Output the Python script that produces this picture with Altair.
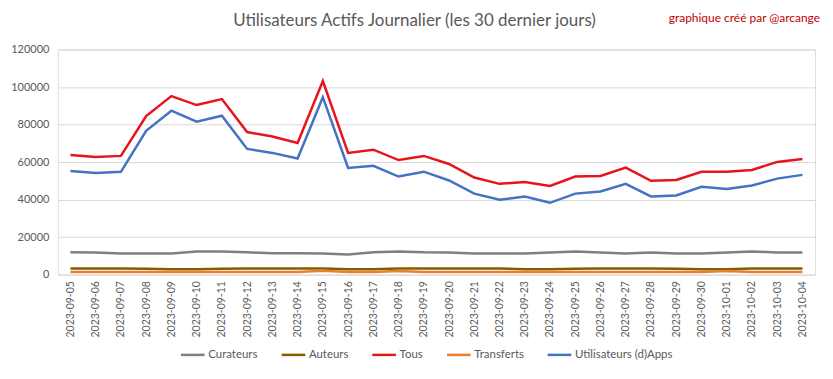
import altair as alt
import pandas as pd

dates = ["2023-09-05","2023-09-06","2023-09-07","2023-09-08","2023-09-09","2023-09-10",
         "2023-09-11","2023-09-12","2023-09-13","2023-09-14","2023-09-15","2023-09-16",
         "2023-09-17","2023-09-18","2023-09-19","2023-09-20","2023-09-21","2023-09-22",
         "2023-09-23","2023-09-24","2023-09-25","2023-09-26","2023-09-27","2023-09-28",
         "2023-09-29","2023-09-30","2023-10-01","2023-10-02","2023-10-03","2023-10-04"]

curateurs = [12000,11800,11300,11300,11300,12300,12400,11900,11400,11400,11300,10800,
             11900,12400,11900,11800,11300,11300,11300,11800,12400,11800,11300,11800,
             11300,11300,11800,12400,11800,11800]
auteurs = [3300,3300,3300,3200,2900,2900,3200,3300,3300,3300,3300,2900,2900,3300,3300,
           3300,3300,3300,2900,2900,3200,3300,3300,3300,3200,2900,2900,3300,3300,3300]
tous = [63800,62700,63300,84500,95200,90400,93600,76000,73600,70200,103200,64900,
        66600,61100,63300,59000,51800,48400,49400,47300,52300,52600,57100,50000,
        50500,54800,54800,55800,60100,61700]
transferts = [1400,1400,1400,1400,1400,1400,1400,1400,1400,1400,2100,1400,1400,1900,1400,
              1400,1400,1400,1400,1400,1400,1400,1400,1400,1400,1400,2000,1400,1400,1400]
apps = [55300,54200,54800,76700,87400,81500,84700,67000,64900,61900,94600,56900,
        58000,52300,54900,50200,43200,39900,41700,38300,43200,44300,48400,41700,
        42200,46800,45700,47500,51200,53200]

series_names = ["Curateurs", "Auteurs", "Tous", "Transferts", "Utilisateurs (d)Apps"]
series_colors = ["#7F7F7F", "#7F6000", "#E8141B", "#ED7D31", "#4472C4"]
series_values = [curateurs, auteurs, tous, transferts, apps]
y_ticks = [0, 20000, 40000, 60000, 80000, 100000, 120000]

title_text = "Utilisateurs Actifs Journalier (les 30 dernier jours)"
credit_text = "graphique créé par @arcange"

rows = []
for name, vals in zip(series_names, series_values):
    for d, v in zip(dates, vals):
        rows.append({"date": d, "serie": name, "valeur": v, "ordre": series_names.index(name)})
df = pd.DataFrame(rows)

FONT = "Lato"
GRAY = "#595959"

lines = alt.Chart(df).mark_line(strokeWidth=2.5).encode(
    x=alt.X("date:O", sort=dates, title=None,
            scale=alt.Scale(type="point", padding=0.5),
            axis=alt.Axis(labelAngle=-90, labelFontSize=10.5, labelColor=GRAY, labelFont=FONT,
                          ticks=False, domain=False, labelPadding=6, grid=False)),
    y=alt.Y("valeur:Q", title=None,
            scale=alt.Scale(domain=[0, 120000], nice=False),
            axis=alt.Axis(values=y_ticks, format="d", labelFontSize=11, labelColor=GRAY,
                          labelFont=FONT, ticks=False, domain=False, labelPadding=9,
                          gridColor="#D9D9D9", gridWidth=1)),
    color=alt.Color("serie:N", sort=series_names,
                    scale=alt.Scale(domain=series_names, range=series_colors),
                    legend=alt.Legend(title=None, orient="none", direction="horizontal",
                                      legendX=122, legendY=293, symbolType="stroke",
                                      symbolStrokeWidth=2.5, symbolSize=560,
                                      labelFontSize=11.5, labelColor=GRAY, labelFont=FONT,
                                      columnPadding=18, labelOffset=2)),
    order=alt.Order("ordre:Q"),
    detail="serie:N",
)

credit = alt.Chart(pd.DataFrame({"t": [credit_text]})).mark_text(
    align="right", baseline="middle", fontSize=12, font=FONT, color="#C00000"
).encode(text="t:N", x=alt.value(765), y=alt.value(-32))

title = alt.Chart(pd.DataFrame({"t": [title_text]})).mark_text(
    align="center", baseline="middle", fontSize=17, font=FONT, color=GRAY
).encode(text="t:N", x=alt.value(358), y=alt.value(-29))

chart = alt.layer(lines, credit, title).properties(
    width=760, height=226,
    padding={"left": 50, "top": 41, "right": 10, "bottom": 95},
    autosize=alt.AutoSizeParams(type="none"),
).configure_view(stroke=None).configure(background="white")

chart.save("out.html", embed_options={"renderer": "svg", "actions": False})
